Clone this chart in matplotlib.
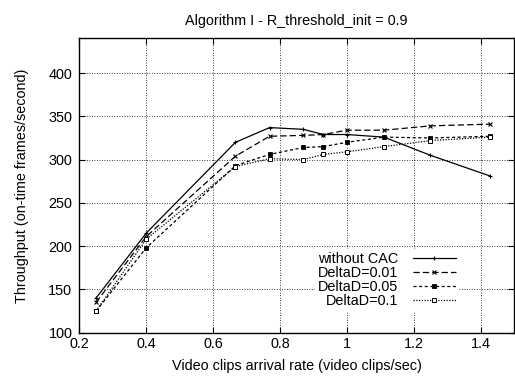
import matplotlib
matplotlib.use('Agg')
import matplotlib.pyplot as plt

plt.rcParams['font.family'] = ['Liberation Sans', 'DejaVu Sans']

# arrival rates (video clips/sec)
rate = [0.25, 0.4, 0.667, 0.769, 0.87, 0.93, 1.0, 1.111, 1.25, 1.429]

# throughput (on-time frames/second)
without_cac = [140, 215, 320, 337, 335, 329, 329, 326, 305, 281]
delta_001 = [135, 211, 304, 327, 328, 329, 334, 334, 339, 341]
delta_005 = [125, 198, 293, 306, 314, 315, 320, 326, 325, 327]
delta_01 = [125, 208, 292, 301, 300, 306, 309, 315, 322, 326]

xticks = [0.2, 0.4, 0.6, 0.8, 1.0, 1.2, 1.4]
xticklabels = ['0.2', '0.4', '0.6', '0.8', '1', '1.2', '1.4']
yticks = [100, 150, 200, 250, 300, 350, 400]

FS = 10.4

fig = plt.figure(figsize=(5.15, 3.77), dpi=100)
ax = fig.add_axes([0.154, 0.1175, 0.844, 0.7805])

ax.plot(rate, without_cac, color='black', lw=0.9, ls='-', marker='+', ms=3.5, mew=0.8, label='without CAC')
ax.plot(rate, delta_001, color='black', lw=0.9, ls=(0, (5, 2.5)), marker='x', ms=3, mew=0.8, label='DeltaD=0.01')
ax.plot(rate, delta_005, color='black', lw=0.9, ls=(0, (2.5, 2)), marker='s', ms=2.8, mew=0.6, label='DeltaD=0.05')
ax.plot(rate, delta_01, color='black', lw=0.9, ls=(0, (1, 1.2)), marker='s', ms=3.2, mew=0.7, mfc='white', label='DeltaD=0.1')

ax.set_xlim(0.2, 1.5)
ax.set_ylim(100, 440)
ax.set_xticks(xticks)
ax.set_xticklabels(xticklabels)
ax.set_yticks(yticks)
ax.tick_params(direction='in', top=True, right=True, labelsize=FS, length=4)
ax.tick_params(axis='y', pad=5)
ax.tick_params(axis='x', pad=3)
ax.grid(True, color='black', ls=(0, (1, 2)), lw=0.6)
for s in ax.spines.values():
    s.set_linewidth(1.0)

ax.set_title('Algorithm I - R_threshold_init = 0.9', fontsize=FS, pad=10)
ax.set_xlabel('Video clips arrival rate (video clips/sec)', fontsize=FS, labelpad=6)
ax.set_ylabel('Throughput (on-time frames/second)', fontsize=FS, labelpad=14)

leg = ax.legend(loc='lower right', bbox_to_anchor=(0.89, 0.05), markerfirst=False,
                frameon=True, fancybox=False, edgecolor='none', framealpha=1,
                fontsize=FS, handlelength=3.0, labelspacing=0.0, borderpad=0.2,
                handletextpad=1.0)
for t in leg.get_texts():
    t.set_ha('right')

fig.savefig('out.png', dpi=100)
